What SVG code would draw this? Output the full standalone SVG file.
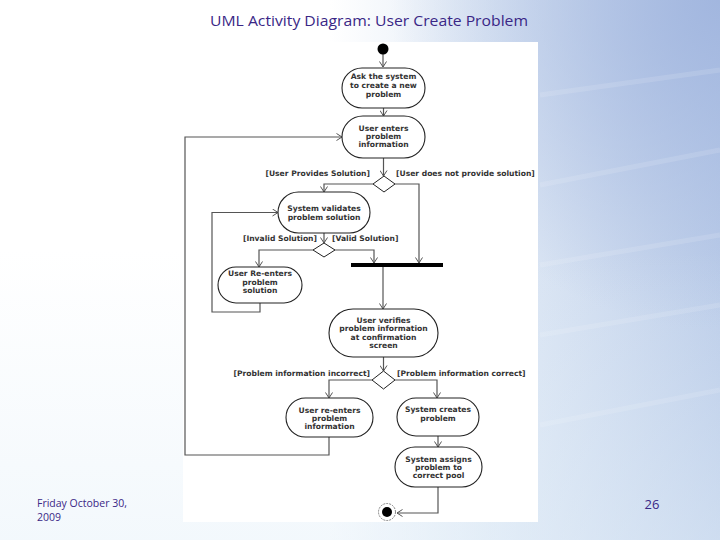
<svg xmlns="http://www.w3.org/2000/svg" width="720" height="540" viewBox="0 0 720 540">
<defs>
<linearGradient id="bg" gradientUnits="userSpaceOnUse" x1="330" y1="0" x2="720" y2="0">
<stop offset="0" stop-color="#ffffff"/>
<stop offset="0.4" stop-color="#e2ebf6"/>
<stop offset="1" stop-color="#bccde9"/>
</linearGradient>
<radialGradient id="tr" gradientUnits="userSpaceOnUse" cx="720" cy="0" r="330">
<stop offset="0" stop-color="#9fb4de" stop-opacity="0.9"/>
<stop offset="1" stop-color="#9fb4de" stop-opacity="0"/>
</radialGradient>
<linearGradient id="bg2" gradientUnits="userSpaceOnUse" x1="0" y1="250" x2="0" y2="540">
<stop offset="0" stop-color="#e4f0f9" stop-opacity="0"/>
<stop offset="1" stop-color="#e4f0f9" stop-opacity="0.45"/>
</linearGradient>
<marker id="arr" markerWidth="8" markerHeight="8" refX="6" refY="4" orient="auto" markerUnits="userSpaceOnUse">
<path d="M0.5,0.5 L6,4 L0.5,7.5" fill="none" stroke="#555" stroke-width="1"/>
</marker>
</defs>
<style>
.node rect{fill:#fff;stroke:#222;stroke-width:1.1}
.node text,.guard{font-family:"DejaVu Sans",sans-serif;font-size:7.6px;font-weight:bold;fill:#333;text-anchor:middle}
.guard{text-anchor:start}
.guard.e{text-anchor:end}
#connectors path{fill:none;stroke:#555;stroke-width:1.2}
.slide{font-family:"Open Sans",Lato,sans-serif;fill:#3a2786}
</style>
<rect width="720" height="540" fill="url(#bg)"/>
<rect width="720" height="540" fill="url(#tr)"/>
<rect width="720" height="540" fill="url(#bg2)"/>
<g opacity="0.12" stroke="#ffffff" stroke-width="5" fill="none">
<path d="M540,95 L720,70"/><path d="M540,185 L720,150"/><path d="M540,265 L720,235"/><path d="M540,335 L720,305"/><path d="M540,425 L720,390"/>
</g>
<rect x="183" y="42" width="355" height="480" fill="#ffffff"/>
<text class="slide" x="369" y="26" font-size="14.5" text-anchor="middle" textLength="318" lengthAdjust="spacingAndGlyphs">UML Activity Diagram: User Create Problem</text>
<text class="slide" x="37" y="507" font-size="10.5">Friday October 30,</text>
<text class="slide" x="37" y="521" font-size="10.5">2009</text>
<text class="slide" x="652" y="509" font-size="13" text-anchor="middle">26</text>

<g id="connectors">
<path d="M383,54 V67" marker-end="url(#arr)"/>
<path d="M383.5,107 V116" marker-end="url(#arr)"/>
<path d="M383.5,158 V176" marker-end="url(#arr)"/>
<path d="M373,184 H324 V192" marker-end="url(#arr)"/>
<path d="M395,184 H419 V263" marker-end="url(#arr)"/>
<path d="M324,233 V243" marker-end="url(#arr)"/>
<path d="M313,250 H259 V267" marker-end="url(#arr)"/>
<path d="M335,250 H374 V263" marker-end="url(#arr)"/>
<path d="M260,303 V312 H212 V212.5 H278" marker-end="url(#arr)"/>
<path d="M383,267 V309" marker-end="url(#arr)"/>
<path d="M383.5,357 V371" marker-end="url(#arr)"/>
<path d="M372,380 H329 V398" marker-end="url(#arr)"/>
<path d="M395,380 H437 V398" marker-end="url(#arr)"/>
<path d="M329,437 V455 H185 V137 H342" marker-end="url(#arr)"/>
<path d="M438,436 V447" marker-end="url(#arr)"/>
<path d="M438,487 V513 H397" marker-end="url(#arr)"/>
</g>

<g id="start"><circle cx="383" cy="49" r="5.5" fill="#000"/></g>

<g id="n1" class="node"><rect x="342" y="68" width="83" height="40" rx="20"/>
<text x="383.5" y="79">Ask the system</text><text x="383.5" y="88">to create a new</text><text x="383.5" y="97">problem</text></g>

<g id="n2" class="node"><rect x="342" y="116" width="83" height="42" rx="21"/>
<text x="383.5" y="131">User enters</text><text x="383.5" y="139">problem</text><text x="383.5" y="147">information</text></g>

<g id="d1"><path d="M384,176 L395,184 L384,192 L373,184 Z" fill="#fff" stroke="#222" stroke-width="1"/></g>
<text class="guard e" x="370" y="176">[User Provides Solution]</text>
<text class="guard" x="396" y="176">[User does not provide solution]</text>

<g id="n3" class="node"><rect x="278" y="192" width="92" height="41" rx="20.5"/>
<text x="324" y="211">System validates</text><text x="324" y="220">problem solution</text></g>

<g id="d2"><path d="M324,243 L335,250 L324,257 L313,250 Z" fill="#fff" stroke="#222" stroke-width="1"/></g>
<text class="guard e" x="317" y="241">[Invalid Solution]</text>
<text class="guard" x="332" y="241">[Valid Solution]</text>

<g id="n4" class="node"><rect x="218" y="267" width="84" height="36" rx="18"/>
<text x="260" y="276">User Re-enters</text><text x="260" y="285">problem</text><text x="260" y="293">solution</text></g>

<g id="fork"><rect x="351" y="263" width="92" height="4" fill="#000"/></g>

<g id="n5" class="node"><rect x="329" y="309" width="109" height="48" rx="24"/>
<text x="383.5" y="323">User verifies</text><text x="383.5" y="331">problem information</text><text x="383.5" y="340">at confirmation</text><text x="383.5" y="348">screen</text></g>

<g id="d3"><path d="M383.5,371 L395,380 L383.5,389 L372,380 Z" fill="#fff" stroke="#222" stroke-width="1"/></g>
<text class="guard e" x="370" y="376">[Problem information incorrect]</text>
<text class="guard" x="397" y="376">[Problem information correct]</text>

<g id="n6" class="node"><rect x="286" y="398" width="87" height="39" rx="19.5"/>
<text x="329.5" y="413">User re-enters</text><text x="329.5" y="421">problem</text><text x="329.5" y="429">information</text></g>

<g id="n7" class="node"><rect x="397" y="398" width="82" height="38" rx="19"/>
<text x="438" y="412">System creates</text><text x="438" y="421">problem</text></g>

<g id="n8" class="node"><rect x="395" y="447" width="87" height="40" rx="20"/>
<text x="438.5" y="462">System assigns</text><text x="438.5" y="470">problem to</text><text x="438.5" y="478">correct pool</text></g>

<g id="end"><circle cx="387" cy="512" r="8.5" fill="#fff" stroke="#666" stroke-width="0.8" stroke-dasharray="2 1"/><circle cx="387" cy="512" r="5" fill="#000"/></g>
</svg>
